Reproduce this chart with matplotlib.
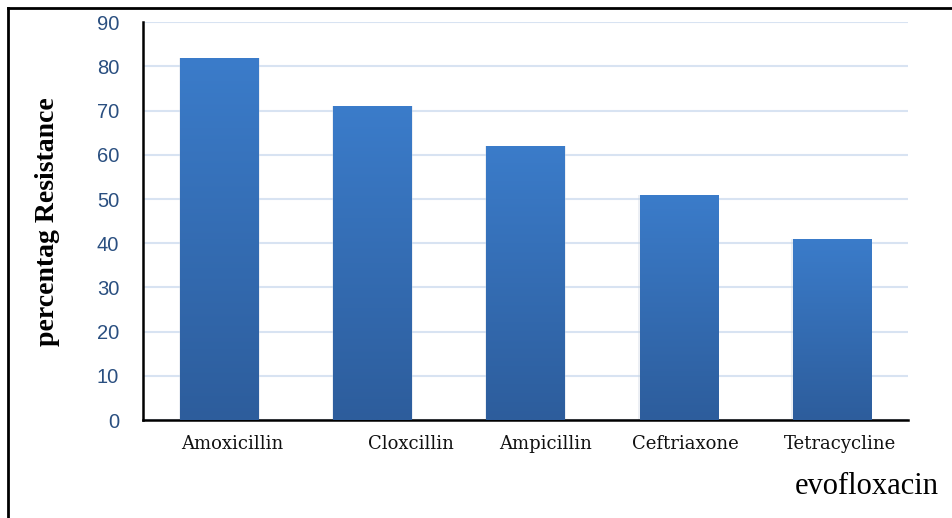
import numpy as np
import matplotlib
matplotlib.use("Agg")
import matplotlib.pyplot as plt
import matplotlib.transforms as mtransforms
from matplotlib.colors import LinearSegmentedColormap

drugs = ["Amoxicillin", "Cloxcillin", "Ampicillin", "Ceftriaxone", "Tetracycline"]
resistance = [82, 71, 62, 51, 41]
yticks = [0, 10, 20, 30, 40, 50, 60, 70, 80, 90]

fig = plt.figure(figsize=(9.52, 5.18), dpi=100)
ax = fig.add_axes([0.150, 0.189, 0.804, 0.768])

x = np.arange(len(drugs))
bars = ax.bar(x, resistance, width=0.51, color="none", edgecolor="none", zorder=3)

# vertical gradient fill, lighter at the top
cmap = LinearSegmentedColormap.from_list("bluefade", ["#2d5d9c", "#3b7cca"])
grad = np.linspace(0, 1, 256).reshape(-1, 1)
for b in bars:
    x0, y0 = b.get_x(), b.get_y()
    w, h = b.get_width(), b.get_height()
    im = ax.imshow(grad, extent=[x0, x0 + w, y0, y0 + h], origin="lower",
                   cmap=cmap, aspect="auto", zorder=3)
    im.set_clip_path(b)
    ax.bar(x0 + w / 2, h, width=w + 0.02, color="#c9d3e0", alpha=0.35,
           edgecolor="none", zorder=2)

ax.set_xlim(-0.5, len(drugs) - 0.5)
ax.set_ylim(0, 90)
ax.set_yticks(yticks)
ax.set_yticklabels([str(v) for v in yticks], fontsize=14.5, color="#2a4f80",
                   family="Liberation Sans")
ax.tick_params(axis="y", length=0, pad=17)
ax.set_xticks(x)
ax.set_xticklabels(drugs, fontsize=13, family="DejaVu Serif", color="#111111")
ax.tick_params(axis="x", length=0, pad=11)

# the category labels sit a little right of their bars
label_shift = [13, 39, 20, 7, 8]
for lbl, dx in zip(ax.get_xticklabels(), label_shift):
    lbl.set_transform(lbl.get_transform() +
                      mtransforms.ScaledTranslation(dx / 100, 0, fig.dpi_scale_trans))

ax.yaxis.grid(True, color="#d8e3f2", linewidth=1.5, zorder=0)
ax.set_axisbelow(True)
for s in ("top", "right"):
    ax.spines[s].set_visible(False)
ax.spines["left"].set_color("black")
ax.spines["left"].set_linewidth(1.8)
ax.spines["bottom"].set_color("black")
ax.spines["bottom"].set_linewidth(1.8)

ax.set_ylabel("percentag Resistance", fontsize=20, fontweight="bold",
              family="Liberation Serif", labelpad=0)
ax.yaxis.set_label_coords(-0.108, 0.5)

fig.text(0.835, 0.06, "evofloxacin", fontsize=22, family="Liberation Serif",
         ha="left", va="center")

# frame around the figure (open on the right and bottom)
fig.add_artist(plt.Line2D([0.0088, 0.0088], [0.0, 0.985], color="black", lw=2))
fig.add_artist(plt.Line2D([0.0088, 1.0], [0.985, 0.985], color="black", lw=2))

fig.savefig("out.png", dpi=100)
